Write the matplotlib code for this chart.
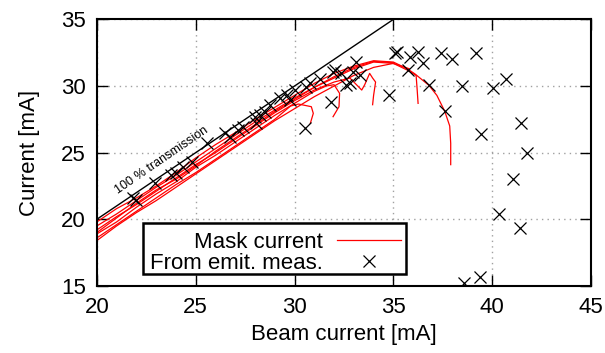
import numpy as np
import matplotlib.pyplot as plt
from matplotlib.patches import Rectangle

plt.rcParams["font.family"] = ["Liberation Sans", "DejaVu Sans"]

# mask current traces (beam current, mask current)
curve_a = [(20, 19.8), (21, 20.8), (22, 21.6), (23, 22.5), (24, 23.5), (25, 24.6), (26, 25.6),
           (27, 26.5), (28, 27.5), (29, 28.4), (30, 29.3), (31, 30.2), (32, 30.95), (33, 31.5),
           (34, 31.9), (35, 31.8), (35.7, 31.3), (36.1, 30.9), (36.8, 30.05), (37.2, 29.3),
           (37.6, 28.1), (37.85, 27.0), (37.9, 25.7), (37.9, 24.1)]
curve_b = [(20, 19.5), (21, 20.4), (22, 21.4), (23, 22.4), (24, 23.3), (25, 24.3), (26, 25.3),
           (27, 26.3), (28, 27.3), (29, 28.2), (30, 29.1), (31, 29.9), (32, 30.6), (33, 31.3),
           (34, 31.8), (35, 31.7), (35.7, 31.2), (36.15, 30.8), (36.2, 29.8), (36.25, 28.7)]
curve_c = [(20, 19.2), (21, 20.2), (22, 21.1), (23, 22.1), (24, 23.1), (25, 24.1), (26, 25.0),
           (27, 26.0), (28, 27.0), (29, 28.0), (30, 28.9), (31, 29.7), (32, 30.3), (32.8, 30.6),
           (33.4, 29.7), (33.55, 30.1), (33.8, 30.95), (33.95, 30.6), (34.1, 30.3), (34.0, 29.3),
           (33.95, 28.6)]
curve_d = [(20, 18.9), (21, 19.8), (22, 20.9), (23, 21.9), (24, 22.8), (25, 23.9), (26, 24.8),
           (27, 25.8), (28, 26.8), (29, 27.8), (30, 28.7), (31, 29.6), (31.6, 30.0), (32.0, 30.1),
           (32.28, 29.45), (32.25, 28.45), (31.95, 27.7)]
curve_e = [(20, 18.6), (21, 19.6), (22, 20.6), (23, 21.6), (24, 22.6), (25, 23.5), (26, 24.5),
           (27, 25.5), (28, 26.5), (29, 27.5), (29.8, 28.5), (30.2, 28.65), (30.85, 28.45),
           (30.95, 27.95), (30.8, 27.2)]
curve_f = [(20, 18.4), (21, 19.5), (22, 20.5), (23, 21.4), (24, 22.4), (25, 23.4), (26, 24.4),
           (27, 25.4), (28, 26.4), (29, 27.4), (30, 28.3), (31, 29.2), (32, 30.0), (33, 30.8),
           (34, 31.4), (35, 31.7), (35.8, 31.3)]
curve_g = [(20, 19.0), (21, 20.1), (22, 21.2), (23, 22.2), (24, 23.0), (25, 24.0), (26, 25.1),
           (27, 26.1), (28, 27.1), (29, 28.1), (30, 29.0), (31, 29.9), (32, 30.7), (33, 31.4),
           (34, 31.85), (35, 31.75)]
mask_curves = [curve_a, curve_b, curve_c, curve_d, curve_e, curve_f, curve_g]

# emittance measurement points
emit_x = [21.84, 22.0, 22.93, 23.77, 24.0, 24.36, 24.79, 25.55, 26.47, 26.72, 27.14, 27.4,
          27.99, 28.07, 28.24, 28.49, 28.75, 29.25, 29.6, 29.76, 30.01, 30.6, 30.77, 30.52,
          31.27, 31.86, 31.95, 32.03, 32.37, 32.62, 32.79, 32.96, 33.13, 33.3, 34.8,
          35.07, 35.2, 35.82, 36.24, 36.48, 35.74, 37.43, 37.95, 39.16, 36.78, 38.47,
          40.04, 40.71, 37.6, 41.47, 39.45, 41.76, 41.05, 40.34, 41.38, 39.36, 38.57]
emit_y = [21.57, 21.45, 22.7, 23.32, 23.45, 23.94, 24.3, 25.7, 26.45, 26.2, 26.7, 26.94,
          27.7, 27.2, 27.82, 28.07, 28.57, 29.07, 29.32, 28.95, 29.7, 29.95, 30.2, 26.82,
          30.5, 28.82, 31.07, 31.2, 30.95, 30.07, 30.2, 31.07, 31.82, 30.82, 29.3,
          32.45, 32.55, 32.15, 32.57, 31.7, 31.2, 32.5, 32.0, 32.45, 30.07, 30.0,
          29.87, 30.5, 28.1, 27.24, 26.4, 25.0, 23.0, 20.4, 19.37, 15.7, 15.2]

ref_line = [15, 45]

fig = plt.figure(figsize=(6.05, 3.53), dpi=100)
ax = fig.add_axes([0.160, 0.190, 0.817, 0.755])

ax.plot(ref_line, ref_line, color="black", lw=1.0)
for i, c in enumerate(mask_curves):
    xs, ys = zip(*c)
    ax.plot(xs, ys, color="#ff0000", lw=0.9, label="Mask current" if i == 0 else None)
ax.plot(emit_x, emit_y, ls="none", marker="x", color="black", ms=8, mew=0.9,
        label="From emit. meas.")

ax.text(23.3, 24.4, "100 % transmission", rotation=34.5, fontsize=9,
        ha="center", va="center", rotation_mode="anchor")

ax.set_xlim(20, 45)
ax.set_ylim(15, 35)
ax.set_xticks(range(20, 46, 5))
ax.set_yticks(range(15, 36, 5))
ax.grid(True, color="#a0a0a0", linestyle=(0, (1, 3)), lw=1)
ax.tick_params(direction="in", length=8, width=1, top=True, right=True, labelsize=16, pad=8)
for s in ax.spines.values():
    s.set_linewidth(1.5)
ax.set_xlabel("Beam current [mA]", fontsize=16)
ax.set_ylabel("Current [mA]", fontsize=16, labelpad=15)

ax.add_patch(Rectangle((0.0925, 0.045), 0.533, 0.192, transform=ax.transAxes,
                       fill=True, facecolor="white", edgecolor="black", lw=1.8, zorder=4))
leg = ax.legend(loc="center right", bbox_to_anchor=(0.638, 0.125), frameon=False,
                markerfirst=False, fontsize=16, handlelength=2.9, handletextpad=0.6,
                labelspacing=0.0, borderpad=0, numpoints=1)
leg.set_zorder(5)

fig.savefig("out.png", dpi=100)
